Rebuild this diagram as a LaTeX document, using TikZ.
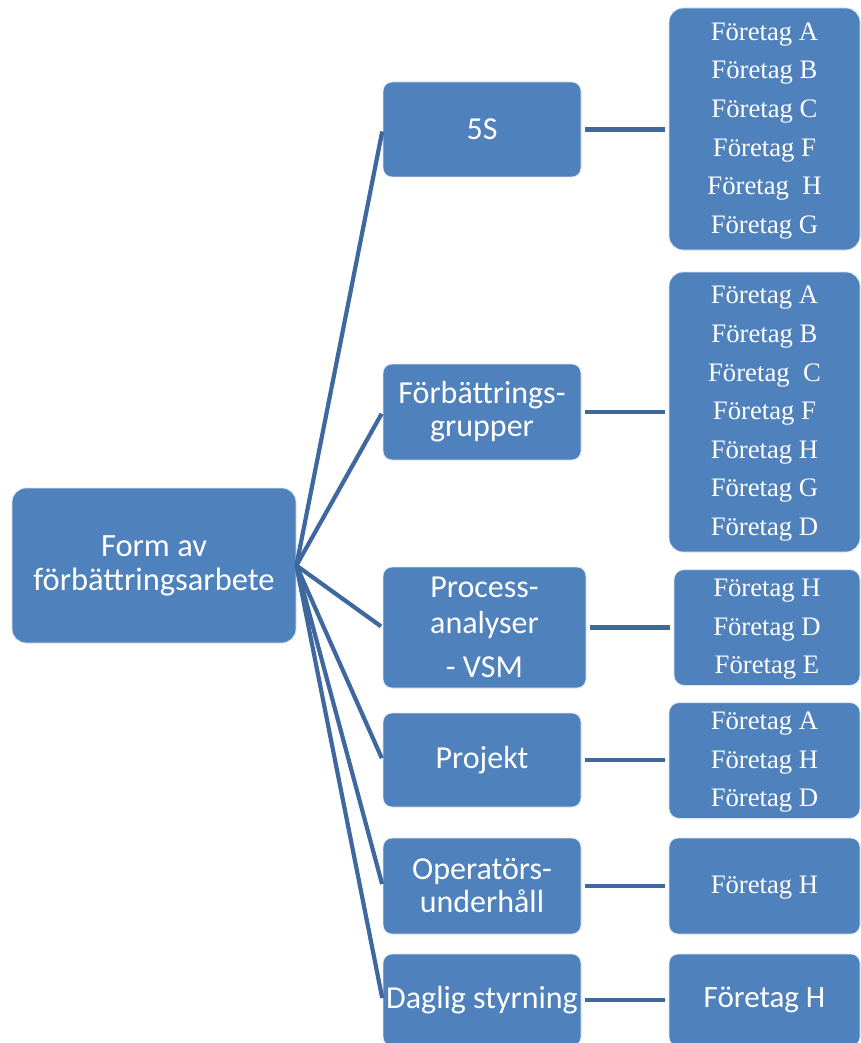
\documentclass[tikz,border=0pt]{standalone}
\usepackage{fontspec}
\setmainfont{Liberation Serif}
\newfontfamily\calibri{Carlito}
\definecolor{boxfill}{RGB}{79,129,189}
\definecolor{linecol}{RGB}{62,104,158}
\newcommand\rlines[1]{\raisebox{-3pt}{\begin{tabular}{@{}c@{}}#1\end{tabular}}}
\begin{document}
\begin{tikzpicture}[x=1pt,y=-1pt,
  box/.style={fill=boxfill,draw=white!80!boxfill,line width=0.8pt,rounded corners=9pt,inner sep=0pt,text=white,align=center},
  sansbox/.style={box,font=\calibri\fontsize{32}{33}\selectfont},
  serifbox/.style={box,rounded corners=14pt,font=\fontsize{26.7}{38.6}\selectfont},
  conn/.style={draw=linecol,line width=4.2pt}]
\useasboundingbox (0,0) rectangle (861,1043);
% root
\node[sansbox,rounded corners=14pt,minimum width=284pt,minimum height=155pt,font=\calibri\fontsize{32.5}{34}\selectfont] (root) at (154,565.5) {Form av\\förbättringsarbete};
% middle
\node[sansbox,minimum width=198pt,minimum height=95pt] (m1) at (482,129.5) {5S};
\node[sansbox,minimum width=198pt,minimum height=96pt] (m2) at (482,412) {Förbättrings-\\grupper};
\node[sansbox,minimum width=203pt,minimum height=121pt,font=\calibri\fontsize{32}{36}\selectfont] (m3) at (484.5,627.5) {Process-\\analyser\\[8pt] - VSM};
\node[sansbox,minimum width=198pt,minimum height=94pt] (m4) at (482,760) {Projekt};
\node[sansbox,minimum width=198pt,minimum height=96pt] (m5) at (482,886) {Operatörs-\\underhåll};
\node[sansbox,minimum width=198pt,minimum height=92pt] (m6) at (482,1000) {\raisebox{-3pt}{Daglig styrning}};
% right
\node[serifbox,minimum width=191pt,minimum height=242pt] (r1) at (764.5,129) {\rlines{Företag A\\Företag B\\Företag C\\Företag F\\Företag\ \ H\\Företag G}};
\node[serifbox,minimum width=191pt,minimum height=280pt] (r2) at (764.5,412) {\rlines{Företag A\\Företag B\\Företag\ \ C\\Företag F\\Företag H\\Företag G\\Företag D}};
\node[serifbox,rounded corners=10pt,minimum width=186pt,minimum height=109pt] (r3) at (767,627.5) {\rlines{Företag H\\Företag D\\Företag E}};
\node[serifbox,rounded corners=10pt,minimum width=191pt,minimum height=115pt] (r4) at (764.5,760.5) {\rlines{Företag A\\Företag H\\Företag D}};
\node[serifbox,rounded corners=9pt,minimum width=191pt,minimum height=96pt] (r5) at (764.5,886) {\rlines{Företag H}};
\node[sansbox,minimum width=191pt,minimum height=92pt,font=\calibri\fontsize{31}{34}\selectfont] (r6) at (764.5,1000) {\raisebox{-3pt}{Företag H}};
% connectors
\foreach \m in {m1,m2,m3,m4,m5,m6}{
  \draw[conn,shorten >=2pt] (root.east) -- (\m.west);
}
\foreach \m/\r in {m1/r1,m2/r2,m3/r3,m4/r4,m5/r5,m6/r6}{
  \draw[conn,shorten <=4pt,shorten >=4pt] (\m.east) -- (\m.east -| \r.west);
}
\end{tikzpicture}
\end{document}
